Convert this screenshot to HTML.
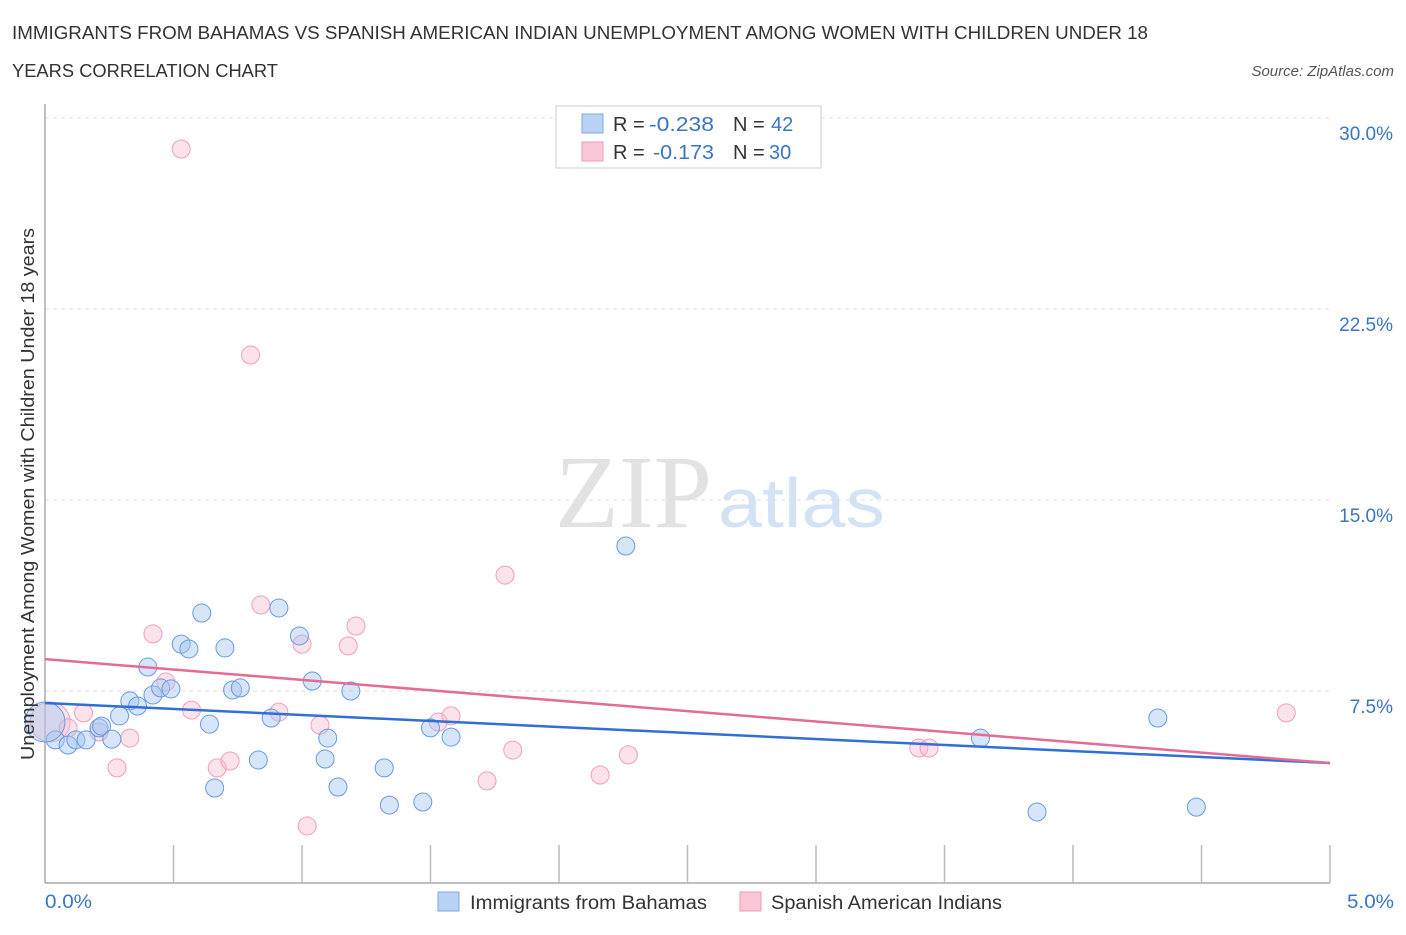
<!DOCTYPE html>
<html><head><meta charset="utf-8"><style>
body{margin:0;background:#fff;font-family:"Liberation Sans",sans-serif;}
svg text{font-family:"Liberation Sans",sans-serif;}
</style></head><body>
<svg id="chart" width="1406" height="930">
<text x="12" y="39" font-size="18" fill="#333" textLength="1136" lengthAdjust="spacingAndGlyphs">IMMIGRANTS FROM BAHAMAS VS SPANISH AMERICAN INDIAN UNEMPLOYMENT AMONG WOMEN WITH CHILDREN UNDER 18</text>
<text x="12" y="77" font-size="18" fill="#333" textLength="266" lengthAdjust="spacingAndGlyphs">YEARS CORRELATION CHART</text>
<text x="1394" y="76" font-size="15" font-style="italic" fill="#555" text-anchor="end">Source: ZipAtlas.com</text>
<text x="555" y="527" font-size="104" fill="#e2e2e2" style="font-family:'Liberation Serif',serif" textLength="157" lengthAdjust="spacingAndGlyphs">ZIP</text>
<text x="718" y="527" font-size="70" fill="#d4e2f5" textLength="167" lengthAdjust="spacingAndGlyphs">atlas</text>
<g id="grid"></g>
<g id="axes"></g>
<g id="pts"></g>
<g id="lines"></g>
<text transform="translate(34,494) rotate(-90)" font-size="18" fill="#333" text-anchor="middle" textLength="532" lengthAdjust="spacingAndGlyphs">Unemployment Among Women with Children Under 18 years</text>
<text x="45" y="908" font-size="19" fill="#3a75c4" textLength="47" lengthAdjust="spacingAndGlyphs">0.0%</text>
<text x="1394" y="908" font-size="19" fill="#3a75c4" text-anchor="end" textLength="47" lengthAdjust="spacingAndGlyphs">5.0%</text>
<g>
<rect x="556" y="106" width="265" height="62" fill="#fff" stroke="#ccc"/>
<rect x="582" y="114" width="21" height="19" fill="#b9d3f5" stroke="#7aa7e6"/>
<rect x="582" y="142" width="21" height="19" fill="#f9c6d6" stroke="#ee9ab5"/>
<text x="613" y="131" font-size="20" fill="#333">R =</text>
<text x="649" y="131" font-size="20" fill="#3a75c4" textLength="65" lengthAdjust="spacingAndGlyphs">-0.238</text>
<text x="733" y="131" font-size="20" fill="#333">N =</text>
<text x="771" y="131" font-size="20" fill="#3a75c4">42</text>
<text x="613" y="159" font-size="20" fill="#333">R =</text>
<text x="653" y="159" font-size="20" fill="#3a75c4" textLength="61" lengthAdjust="spacingAndGlyphs">-0.173</text>
<text x="733" y="159" font-size="20" fill="#333">N =</text>
<text x="769" y="159" font-size="20" fill="#3a75c4">30</text>
</g>
<g>
<rect x="438" y="892" width="21" height="19" fill="#b9d3f5" stroke="#7aa7e6"/>
<text x="470" y="909" font-size="19" fill="#333" textLength="237" lengthAdjust="spacingAndGlyphs">Immigrants from Bahamas</text>
<rect x="740" y="892" width="21" height="19" fill="#f9c6d6" stroke="#ee9ab5"/>
<text x="771" y="909" font-size="19" fill="#333" textLength="231" lengthAdjust="spacingAndGlyphs">Spanish American Indians</text>
</g>
</svg>
<script>
const yTicks=[7.5,15,22.5,30];
const yTickLabels=["7.5%","15.0%","22.5%","30.0%"];
const xTicks=[0.5,1,1.5,2,2.5,3,3.5,4,4.5,5];
const blueX=[0.04,0.09,0.12,0.16,0.21,0.22,0.26,0.29,0.33,0.36,0.40,0.42,0.45,0.49,0.53,0.56,0.61,0.64,0.66,0.70,0.73,0.76,0.83,0.88,0.91,0.99,1.04,1.09,1.10,1.14,1.19,1.32,1.34,1.47,1.50,1.58,2.26,3.64,3.86,4.33,4.48,0.0];
const blueY=[5.58,5.38,5.58,5.58,6.05,6.12,5.61,6.52,7.11,6.91,8.44,7.34,7.62,7.58,9.34,9.15,10.56,6.20,3.69,9.19,7.54,7.62,4.79,6.44,10.76,9.66,7.89,4.83,5.65,3.73,7.50,4.48,3.02,3.14,6.05,5.69,13.19,5.65,2.75,6.44,2.94,6.28];
const pinkX=[0.02,0.09,0.15,0.21,0.28,0.33,0.42,0.47,0.57,0.67,0.72,0.53,0.80,0.84,0.91,1.00,1.02,1.07,1.18,1.21,1.53,1.58,1.72,1.79,1.82,2.16,2.27,3.40,3.44,4.83];
const pinkY=[6.28,6.05,6.64,5.89,4.48,5.65,9.74,7.85,6.75,4.48,4.75,28.78,20.69,10.88,6.67,9.34,2.20,6.16,9.27,10.05,6.28,6.52,3.97,12.05,5.18,4.20,4.99,5.26,5.26,6.64];
const blueTrend=[7.03,4.67];
const pinkTrend=[8.75,4.67];
const NS="http://www.w3.org/2000/svg";
const sx=v=>45+v*257, sy=v=>882-v*25.47;
function mk(tag,attrs,parent){const e=document.createElementNS(NS,tag);for(const k in attrs)e.setAttribute(k,attrs[k]);document.getElementById(parent).appendChild(e);return e;}
yTicks.forEach((t,i)=>{
  const l=mk('line',{x1:45,x2:1330,y1:sy(t),y2:sy(t),stroke:'#ddd','stroke-dasharray':'4,4'},'grid');
  
  
  const tx=mk('text',{x:1393,y:sy(t)+22,'font-size':19,fill:'#3a75c4','text-anchor':'end'},'grid');
  tx.textContent=yTickLabels[i];
  
  
});
const ya=mk('line',{x1:45,x2:45,y1:104,y2:883,stroke:'#aaa','stroke-width':1.5},'axes');


const xa=mk('line',{x1:45,x2:1330,y1:883,y2:883,stroke:'#aaa','stroke-width':1.5},'axes');


xTicks.forEach(t=>{
  const l=mk('line',{x1:sx(t),x2:sx(t),y1:845,y2:883,stroke:'#bbb','stroke-width':1.5},'axes');
  
  
});
function draw(X,Y,fill,stroke,name){
  X.forEach((x,i)=>{
    const big=(x===0.0&&name==='bahamas-point')||(i===0&&name==='spanish-american-indian-point');
    const c=mk('circle',{cx:sx(x),cy:sy(Y[i]),r:big?20:9,fill:fill,stroke:stroke,'stroke-width':1},'pts');
    
    
  });
}
draw(pinkX,pinkY,'rgba(248,185,205,0.4)','#ef9fb9','spanish-american-indian-point');
draw(blueX,blueY,'rgba(165,198,240,0.45)','#6a9ae2','bahamas-point');
const bt=mk('line',{x1:sx(0),x2:sx(5),y1:sy(blueTrend[0]),y2:sy(blueTrend[1]),stroke:'#2f6fd6','stroke-width':2.5},'lines');


const pt=mk('line',{x1:sx(0),x2:sx(5),y1:sy(pinkTrend[0]),y2:sy(pinkTrend[1]),stroke:'#e56b95','stroke-width':2.5},'lines');


</script>
</body></html>
